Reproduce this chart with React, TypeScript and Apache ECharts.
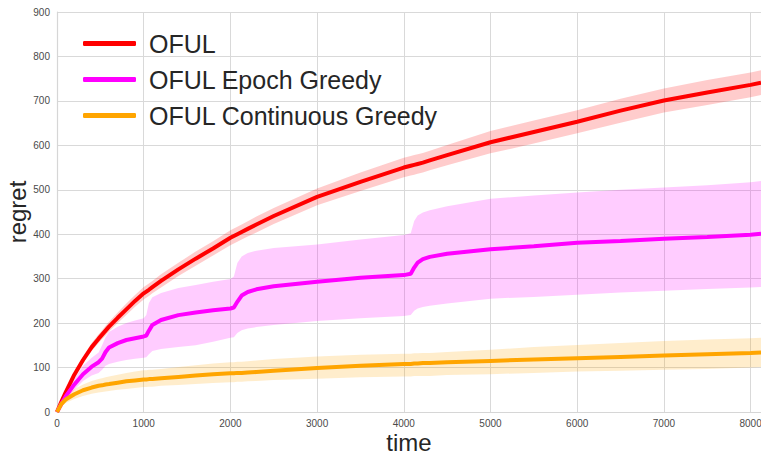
import React, { useEffect, useRef } from "react";
import * as echarts from "echarts";

const T = [0, 50, 100, 200, 300, 400, 480, 520, 560, 600, 700, 800, 900, 1000, 1030, 1060, 1100, 1200, 1400, 1600, 1800, 2000, 2040, 2080, 2130, 2200, 2300, 2500, 3000, 3500, 4000, 4080, 4120, 4160, 4220, 4300, 4500, 5000, 5500, 6000, 6500, 7000, 7500, 8000, 8120];

const oful = [0, 23, 44, 84, 117, 146, 165, 174, 183, 192, 212, 231, 250, 267, 271, 275, 281, 295, 321, 345, 368, 392, 396, 400, 405, 412, 422, 441, 484, 518, 550, 554, 556, 558, 561, 566, 578, 607, 630, 653, 678, 701, 719, 736, 741];
const ofulLow = [0, 21, 40, 78, 109, 137, 155, 164, 172, 181, 200, 218, 237, 253, 257, 261, 267, 280, 306, 329, 352, 375, 379, 383, 388, 395, 404, 423, 465, 497, 528, 532, 534, 536, 539, 544, 555, 582, 604, 627, 651, 674, 691, 708, 713];
const ofulHigh = [0, 25, 48, 90, 125, 155, 175, 184, 194, 203, 224, 244, 263, 281, 285, 289, 295, 310, 336, 361, 384, 409, 413, 417, 422, 429, 440, 459, 503, 539, 572, 576, 578, 580, 583, 588, 601, 632, 656, 679, 705, 728, 747, 764, 769];

const epoch = [0, 18, 35, 62, 85, 102, 112, 120, 135, 145, 155, 162, 166, 170, 172, 183, 196, 207, 218, 224, 229, 233, 235, 248, 262, 270, 276, 283, 293, 302, 308, 311, 325, 336, 344, 349, 356, 366, 373, 381, 385, 390, 394, 399, 401];
const epochLow = [0, 14, 27, 50, 70, 82, 88, 95, 104, 108, 113, 117, 120, 122, 123, 130, 137, 142, 146, 150, 158, 167, 168, 178, 184, 188, 191, 196, 205, 211, 216, 218, 228, 233, 236, 239, 244, 255, 259, 264, 269, 273, 277, 280, 281];
const epochHigh = [0, 22, 43, 75, 104, 122, 134, 150, 168, 180, 192, 200, 206, 211, 218, 245, 258, 268, 279, 286, 293, 299, 305, 335, 350, 358, 363, 369, 377, 388, 398, 402, 430, 442, 449, 454, 463, 480, 487, 494, 500, 505, 510, 517, 520];

const cont = [0, 18, 28, 40, 49, 55, 59, 60, 62, 63, 66, 69, 71, 73, 73, 74, 74, 76, 79, 82, 85, 87, 87, 88, 88, 89, 90, 93, 99, 104, 108, 108, 109, 109, 110, 110, 112, 115, 118, 121, 124, 127, 130, 133, 134];
const contLow = [0, 12, 20, 29, 36, 41, 44, 45, 46, 47, 50, 52, 54, 56, 56, 57, 57, 59, 61, 63, 65, 67, 67, 68, 68, 69, 70, 72, 75, 78, 80, 80, 81, 81, 81, 81, 83, 85, 88, 91, 93, 95, 97, 100, 101];
const contHigh = [0, 24, 36, 52, 62, 70, 74, 76, 78, 80, 84, 88, 91, 94, 94, 95, 95, 97, 101, 105, 109, 112, 112, 113, 113, 114, 116, 119, 125, 129, 131, 131, 132, 132, 133, 133, 135, 140, 146, 151, 155, 160, 163, 166, 167];

const names = ["OFUL", "OFUL Epoch Greedy", "OFUL Continuous Greedy"];
const colors = ["#ff0000", "#ff00ff", "#ffa500"];
const bandColors = ["rgba(255,0,0,0.2)", "rgba(255,0,255,0.2)", "rgba(255,165,0,0.2)"];
const X_MAX = 8120;

const FONT = "'Liberation Sans', Arial, sans-serif";

export default function App() {
  const ref = useRef<HTMLDivElement>(null);
  useEffect(() => {
    if (!ref.current) return;
    const chart = echarts.init(ref.current, null, { renderer: "svg" });
    const means = [oful, epoch, cont];
    const lows = [ofulLow, epochLow, contLow];
    const highs = [ofulHigh, epochHigh, contHigh];
    const series: any[] = [];
    for (let k = 0; k < 3; k++) {
      const lo = lows[k];
      const hi = highs[k];
      series.push({
        type: "custom",
        silent: true,
        z: 1,
        data: T.map((t, i) => [t, lo[i], hi[i]]),
        encode: { x: 0, y: [1, 2] },
        renderItem: (params: any, api: any) => {
          if (params.dataIndex !== 0) return null;
          const pts: number[][] = [];
          for (let i = 0; i < T.length; i++) pts.push(api.coord([T[i], hi[i]]));
          for (let i = T.length - 1; i >= 0; i--) pts.push(api.coord([T[i], lo[i]]));
          return {
            type: "polygon",
            shape: { points: pts },
            style: { fill: bandColors[k] },
          };
        },
      });
    }
    for (let k = 0; k < 3; k++) {
      series.push({
        type: "line",
        name: names[k],
        data: T.map((t, i) => [t, means[k][i]]),
        symbol: "none",
        lineStyle: { color: colors[k], width: 4 },
        itemStyle: { color: colors[k] },
        z: 3 + k,
      });
    }
    chart.setOption({
      animation: false,
      backgroundColor: "#ffffff",
      grid: { left: 57, right: 0, top: 12, bottom: 42, containLabel: false, outerBoundsMode: "none" },
      legend: {
        data: names,
        orient: "vertical",
        left: 78,
        top: 25,
        icon: "roundRect",
        itemWidth: 53,
        itemHeight: 5,
        itemGap: 9,
        textStyle: {
          fontSize: 25,
          lineHeight: 27,
          color: "#262626",
          fontFamily: FONT,
          padding: [0, 0, 0, 8],
        },
      },
      xAxis: {
        type: "value",
        min: 0,
        max: X_MAX,
        interval: 1000,
        name: "time",
        nameLocation: "middle",
        nameGap: 18,
        nameMoveOverlap: false,
        nameTextStyle: { fontSize: 24, color: "#262626", fontFamily: FONT },
        axisLine: { show: true, lineStyle: { color: "#d6d6d6", width: 1.2 } },
        axisTick: { show: false },
        axisLabel: {
          fontSize: 10,
          color: "#4a4a4a",
          fontFamily: FONT,
          margin: 6,
          formatter: (v: number) => (v % 1000 === 0 ? String(v) : ""),
        },
        splitLine: { show: true, lineStyle: { color: "#d9d9d9", width: 1 } },
      },
      yAxis: {
        type: "value",
        min: 0,
        max: 900,
        interval: 100,
        name: "regret",
        nameLocation: "middle",
        nameGap: 28,
        nameMoveOverlap: false,
        nameTextStyle: { fontSize: 24, color: "#262626", fontFamily: FONT },
        axisLine: { show: true, lineStyle: { color: "#d6d6d6", width: 1.2 } },
        axisTick: { show: false },
        axisLabel: { fontSize: 10, color: "#4a4a4a", fontFamily: FONT, margin: 7 },
        splitLine: { show: true, lineStyle: { color: "#d9d9d9", width: 1 } },
      },
      series,
    });
    return () => chart.dispose();
  }, []);
  return (
    <div
      ref={ref}
      style={{ position: "absolute", left: 0, top: 0, width: 761, height: 454 }}
    />
  );
}
